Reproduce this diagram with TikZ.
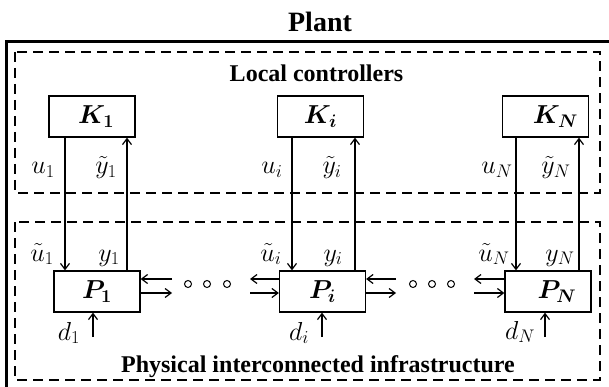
\RequirePackage{fix-cm}
\documentclass[tikz,border=0pt]{standalone}
\usepackage{bm}
\usepackage{fontspec}
\setmainfont{Liberation Serif}
\usetikzlibrary{arrows.meta}
\tikzset{
  blk/.style={draw, line width=1.3pt, minimum width=86pt, minimum height=41pt, inner sep=0pt, font=\fontsize{26}{30}\selectfont},
  grp/.style={draw, line width=2pt, dash pattern=on 10pt off 6pt},
  sig/.style={line width=1.2pt, -{Straight Barb[length=6pt,width=9pt]}},
  lbl/.style={anchor=base, inner sep=0pt, font=\fontsize{26}{30}\selectfont},
  ttl/.style={anchor=base, inner sep=0pt, font=\bfseries\fontsize{24}{28}\selectfont},
  dotc/.style={circle, draw, line width=1pt, minimum size=7pt, inner sep=0pt}
}
\begin{document}
\begin{tikzpicture}[x=1pt,y=-1pt]
\useasboundingbox (0,0) rectangle (609,387);
% outer frame
\draw[line width=3.5pt] (6.5,400) -- (6.5,41.5) -- (620,41.5);
% group boxes
\draw[grp] (15,52) rectangle (600,193);
\draw[grp] (15,222) rectangle (600,380);
% titles
\node[ttl, font=\bfseries\fontsize{28}{32}\selectfont] (tplant) at (320,32) {Plant};
\node[ttl] (tlc) at (316.5,82) {Local controllers};
\node[ttl] (tpi) at (318,372) {Physical interconnected infrastructure};
% blocks
\node[blk] (K1) at (92,116.5) {\hspace{8pt}$\bm{K_1}$};
\node[blk] (Ki) at (320.5,116.5) {$\bm{K_i}$};
\node[blk] (KN) at (545.5,116.5) {\hspace{20pt}$\bm{K_N}$};
\node[blk] (P1) at (97,291.5) {$\bm{P_1}$};
\node[blk] (Pi) at (322.5,291.5) {$\bm{P_i}$};
\node[blk] (PN) at (548,291.5) {\hspace{18pt}$\bm{P_N}$};
% vertical line positions
\coordinate (xu1) at (65,0);
\coordinate (xy1) at (127,0);
\coordinate (xui) at (292,0);
\coordinate (xyi) at (355,0);
\coordinate (xuN) at (516,0);
\coordinate (xyN) at (579,0);
\draw[sig] (K1.south -| xu1) -- (P1.north -| xu1);
\draw[sig] (P1.north -| xy1) -- (K1.south -| xy1);
\draw[sig] (Ki.south -| xui) -- (Pi.north -| xui);
\draw[sig] (Pi.north -| xyi) -- (Ki.south -| xyi);
\draw[sig] (KN.south -| xuN) -- (PN.north -| xuN);
\draw[sig] (PN.north -| xyN) -- (KN.south -| xyN);
% labels
\node[lbl] (lu1) at (43,174) {$u_1$};
\node[lbl] (ly1) at (106,174) {$\tilde{y}_1$};
\node[lbl] (lui) at (272,174) {$u_i$};
\node[lbl] (lyi) at (332,174) {$\tilde{y}_i$};
\node[lbl] (luN) at (497,174) {$u_N$};
\node[lbl] (lyN) at (556,174) {$\tilde{y}_N$};
\node[lbl] (mu1) at (42,261) {$\tilde{u}_1$};
\node[lbl] (my1) at (109,261) {$y_1$};
\node[lbl] (mui) at (271,261) {$\tilde{u}_i$};
\node[lbl] (myi) at (333,261) {$y_i$};
\node[lbl] (muN) at (494,261) {$\tilde{u}_N$};
\node[lbl] (myN) at (560,261) {$y_N$};
\node[lbl] (ld1) at (69,340) {$d_1$};
\node[lbl] (ldi) at (299,340) {$d_i$};
\node[lbl] (ldN) at (520,339) {$d_N$};
% disturbances
\coordinate (d1) at (93,337);
\coordinate (di) at (322,337);
\coordinate (dN) at (545,337);
\draw[sig] (d1) -- (d1 |- P1.south);
\draw[sig] (di) -- (di |- Pi.south);
\draw[sig] (dN) -- (dN |- PN.south);
% interconnections
\coordinate (a1u) at (172,279); \coordinate (a1l) at (172,293);
\coordinate (a2u) at (250,279); \coordinate (a2l) at (250,293);
\coordinate (a3u) at (396,279); \coordinate (a3l) at (396,293);
\coordinate (a4u) at (474,279); \coordinate (a4l) at (474,293);
\draw[sig] (a1u) -- (a1u -| P1.east);
\draw[sig] (a1l -| P1.east) -- (a1l);
\draw[sig] (a2u -| Pi.west) -- (a2u);
\draw[sig] (a2l) -- (a2l -| Pi.west);
\draw[sig] (a3u) -- (a3u -| Pi.east);
\draw[sig] (a3l -| Pi.east) -- (a3l);
\draw[sig] (a4u -| PN.west) -- (a4u);
\draw[sig] (a4l) -- (a4l -| PN.west);
% dots
\node[dotc] (c1) at (188,284) {};
\node[dotc] (c2) at (207,284) {};
\node[dotc] (c3) at (227,284) {};
\node[dotc] (c4) at (413,284) {};
\node[dotc] (c5) at (432,284) {};
\node[dotc] (c6) at (451,284) {};
\end{tikzpicture}
\end{document}
